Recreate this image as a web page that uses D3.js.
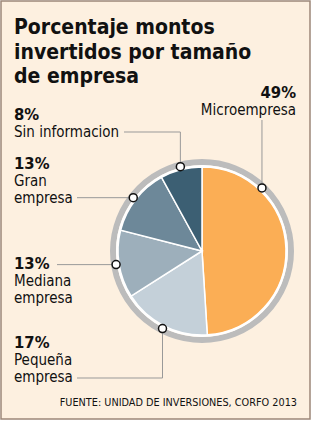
<!DOCTYPE html>
<html>
<head>
<meta charset="utf-8">
<script src="https://cdn.jsdelivr.net/npm/d3@7"></script>
<style>
  html, body { margin: 0; padding: 0; background: #fff; }
  svg { display: block; }
  text { font-family: "DejaVu Sans Condensed", "DejaVu Sans", sans-serif; fill: #111; }
</style>
</head>
<body>
<svg id="chart" width="312" height="421"></svg>
<script>
const categories = ["Microempresa", "Pequeña empresa", "Mediana empresa", "Gran empresa", "Sin informacion"];
const values = [49, 17, 13, 13, 8];
const pctLabels = ["49%", "17%", "13%", "13%", "8%"];
const nameLines = [["Microempresa"], ["Pequeña", "empresa"], ["Mediana", "empresa"], ["Gran", "empresa"], ["Sin informacion"]];
const sliceColors = ["#fbae55", "#c4d0d9", "#9dafbb", "#6d8899", "#3c5f73"];
const titleLines = ["Porcentaje montos", "invertidos por tamaño", "de empresa"];
const sourceText = "FUENTE: UNIDAD DE INVERSIONES, CORFO 2013";

const W = 312, H = 421;
const cx = 202, cy = 251, radius = 84;

const svg = d3.select("#chart");

// fondo y marco
svg.append("rect")
    .attr("x", 1).attr("y", 1)
    .attr("width", W - 3).attr("height", H - 3)
    .attr("fill", "#fdf0e0")
    .attr("stroke", "#9c8778")
    .attr("stroke-width", 1.5);

// titulo
svg.append("g")
    .selectAll("text")
    .data(titleLines)
    .enter()
    .append("text")
    .attr("x", 14)
    .attr("y", (d, i) => 34 + i * 24.5)
    .attr("font-size", 21)
    .attr("font-weight", "bold")
    .text(d => d);

// torta
const pie = d3.pie().sort(null).value(d => d);
const arcs = pie(values);
const arc = d3.arc().innerRadius(0).outerRadius(radius);

const g = svg.append("g").attr("transform", `translate(${cx},${cy})`);

g.append("circle").attr("r", 89).attr("fill", "none")
    .attr("stroke", "#bcbcbc").attr("stroke-width", 6);
g.append("circle").attr("r", 86).attr("fill", "#fff");

g.selectAll("path")
    .data(arcs)
    .enter()
    .append("path")
    .attr("d", arc)
    .attr("fill", (d, i) => sliceColors[i])
    .attr("stroke", "#fff")
    .attr("stroke-width", 1.5);

// etiquetas: posicion del texto y del inicio de la linea guia
const labelLayout = [
    { x: 296, y: 98, anchor: "end", lineX: null, lineY: 120, dotFrac: 0.247 },
    { x: 14, y: 348, anchor: "start", lineX: 77, lineY: 378, dotFrac: 0.5 },
    { x: 14, y: 269, anchor: "start", lineX: 57, lineY: null, dotFrac: 0.5 },
    { x: 14, y: 169, anchor: "start", lineX: 77, lineY: null, dotFrac: 0.5 },
    { x: 14, y: 120, anchor: "start", lineX: 124, lineY: 132, dotFrac: 0.5 }
];

const dotR = 87;
const dots = arcs.map((a, i) => {
    const ang = a.startAngle + (a.endAngle - a.startAngle) * labelLayout[i].dotFrac;
    return [cx + dotR * Math.sin(ang), cy - dotR * Math.cos(ang)];
});

const leaders = svg.append("g");
arcs.forEach((a, i) => {
    const L = labelLayout[i];
    const [dx, dy] = dots[i];
    const sx = L.lineX === null ? dx : L.lineX;
    const sy = L.lineY === null ? dy : L.lineY;
    leaders.append("path")
        .attr("d", `M${sx},${sy}H${dx}V${dy}`)
        .attr("fill", "none")
        .attr("stroke", "#999")
        .attr("stroke-width", 1);
});

svg.append("g")
    .selectAll("circle")
    .data(dots)
    .enter()
    .append("circle")
    .attr("cx", d => d[0])
    .attr("cy", d => d[1])
    .attr("r", 4)
    .attr("fill", "#fff")
    .attr("stroke", "#111")
    .attr("stroke-width", 1.5);

const labels = svg.append("g");
categories.forEach((c, i) => {
    const L = labelLayout[i];
    labels.append("text")
        .attr("x", L.x).attr("y", L.y)
        .attr("text-anchor", L.anchor)
        .attr("font-size", 16.5)
        .attr("font-weight", "bold")
        .text(pctLabels[i]);
    nameLines[i].forEach((line, j) => {
        labels.append("text")
            .attr("x", L.x).attr("y", L.y + 17 * (j + 1))
            .attr("text-anchor", L.anchor)
            .attr("font-size", 15)
            .text(line);
    });
});

// fuente
svg.append("text")
    .attr("x", 297).attr("y", 406)
    .attr("text-anchor", "end")
    .attr("font-size", 10.8)
    .text(sourceText);
</script>
</body>
</html>
